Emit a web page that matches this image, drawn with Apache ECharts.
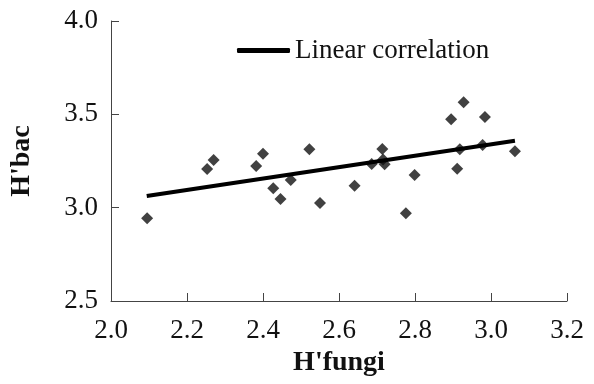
<!DOCTYPE html>
<html>
<head>
<meta charset="utf-8">
<script src="https://cdn.jsdelivr.net/npm/echarts@6/dist/echarts.min.js"></script>
<style>
  html, body { margin: 0; padding: 0; background: #fff; }
  #chart { width: 594px; height: 384px; }
</style>
</head>
<body>
<div id="chart"></div>
<script>
// observed points (H'fungi vs H'bac)
const fungi = [2.095, 2.253, 2.270, 2.382, 2.400, 2.427, 2.446, 2.473, 2.522, 2.550,
  2.641, 2.686, 2.714, 2.716, 2.720, 2.776, 2.799, 2.895, 2.911, 2.918, 2.928, 2.978, 2.984, 3.063]
const bac = [2.943, 3.207, 3.255, 3.223, 3.289, 3.104, 3.047, 3.148, 3.313, 3.025,
  3.118, 3.234, 3.314, 3.258, 3.232, 2.970, 3.175, 3.473, 3.209, 3.313, 3.565, 3.336, 3.486, 3.302]

// linear fit end points
const fitX = [2.094, 3.063]
const fitY = [3.063, 3.359]

const xTicks = { min: 2.0, max: 3.2, step: 0.2 }
const yTicks = { min: 2.5, max: 4.0, step: 0.5 }

const font = 'Liberation Serif'
const chart = echarts.init(document.getElementById('chart'))

const axisCommon = {
  axisLine: { show: true, lineStyle: { color: '#444', width: 1 } },
  axisTick: { show: true, inside: true, length: 8, lineStyle: { color: '#444' } },
  splitLine: { show: false },
  axisLabel: {
    color: '#111',
    fontFamily: font,
    fontSize: 27,
    formatter: v => v.toFixed(1)
  },
  nameTextStyle: { color: '#111', fontFamily: font, fontSize: 28, fontWeight: 'bold' }
}

chart.setOption({
  animation: false,
  grid: { left: 111, top: 21, right: 27, bottom: 83 },
  legend: {
    data: ['Linear correlation'],
    left: 232,
    top: 32,
    icon: 'roundRect',
    itemWidth: 53,
    itemHeight: 5,
    textStyle: { color: '#111', fontFamily: font, fontSize: 27 }
  },
  xAxis: {
    ...axisCommon,
    type: 'value',
    min: xTicks.min,
    max: xTicks.max,
    interval: xTicks.step,
    name: "H'fungi",
    nameLocation: 'middle',
    nameGap: 42,
    axisLabel: { ...axisCommon.axisLabel, margin: 16 }
  },
  yAxis: {
    ...axisCommon,
    type: 'value',
    min: yTicks.min,
    max: yTicks.max,
    interval: yTicks.step,
    name: "H'bac",
    nameLocation: 'middle',
    nameGap: 75,
    axisLabel: { ...axisCommon.axisLabel, margin: 13 }
  },
  series: [
    {
      name: 'Linear correlation',
      type: 'line',
      data: fitX.map((x, i) => [x, fitY[i]]),
      showSymbol: false,
      lineStyle: { color: '#000', width: 4 },
      itemStyle: { color: '#000' },
      z: 3
    },
    {
      name: 'data',
      type: 'scatter',
      data: fungi.map((x, i) => [x, bac[i]]),
      symbol: 'diamond',
      symbolSize: 12,
      itemStyle: { color: '#111' },
      z: 2
    }
  ]
})
</script>
</body>
</html>
